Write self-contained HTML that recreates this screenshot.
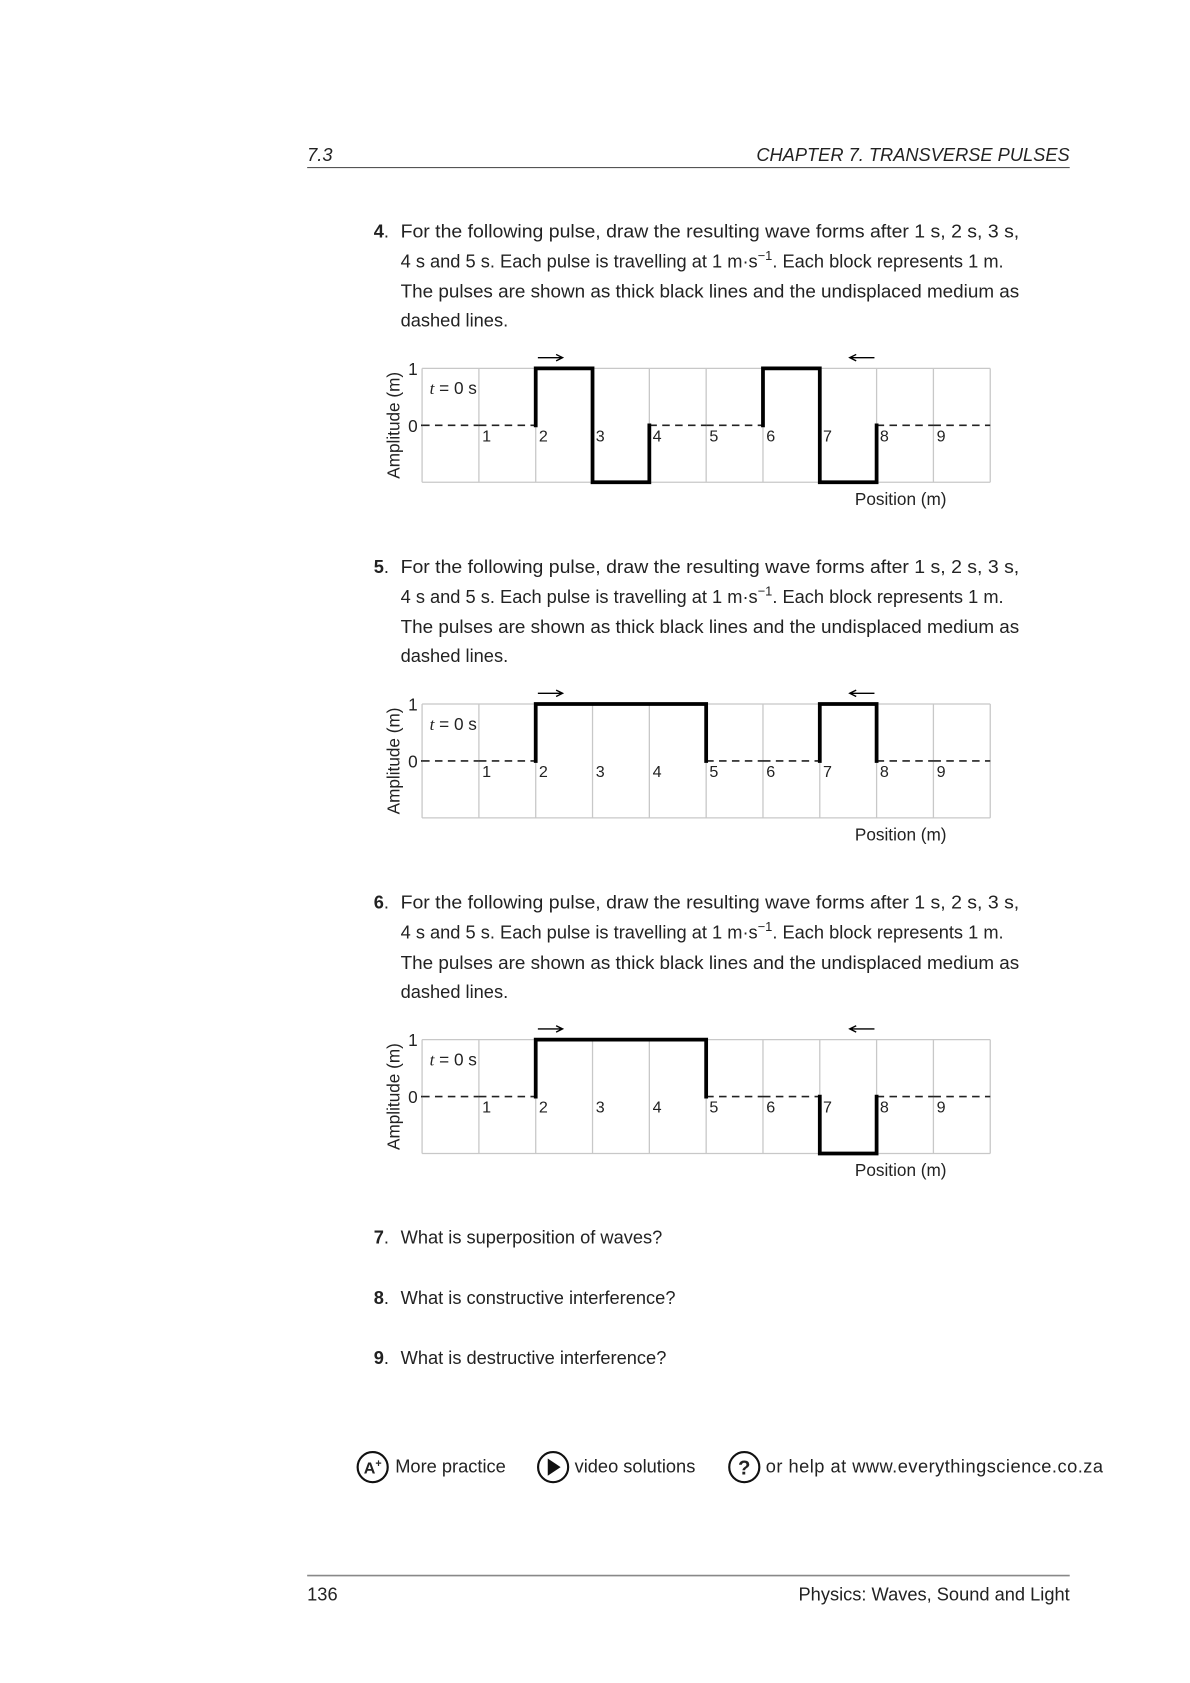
<!DOCTYPE html>
<html><head><meta charset="utf-8"><style>
html,body{margin:0;padding:0;background:#fff}
svg{display:block}
text{font-family:"Liberation Sans",sans-serif;fill:#222}
</style></head><body>
<svg id="page" xmlns="http://www.w3.org/2000/svg" width="1190" height="1683" viewBox="0 0 1108 1567">
<text x="286" y="150" font-size="17" font-style="italic">7.3</text>
<text x="996" y="150" font-size="17" font-style="italic" text-anchor="end">CHAPTER 7.  TRANSVERSE PULSES</text>
<line x1="286" y1="156" x2="996" y2="156" stroke="#555" stroke-width="1"/>
<g id="charts"></g>
<g><text x="348" y="1158" font-size="17"><tspan font-weight="bold">7</tspan>.</text><text x="373" y="1158" font-size="17">What is superposition of waves?</text></g>
<g><text x="348" y="1214" font-size="17"><tspan font-weight="bold">8</tspan>.</text><text x="373" y="1214" font-size="17">What is constructive interference?</text></g>
<g><text x="348" y="1270" font-size="17"><tspan font-weight="bold">9</tspan>.</text><text x="373" y="1270" font-size="17">What is destructive interference?</text></g>
<g>
<circle cx="347" cy="1366" r="14" fill="none" stroke="#111" stroke-width="2"/>
<text x="347" y="1372" font-size="15" font-weight="bold" text-anchor="middle">A<tspan font-size="10" dy="-6">+</tspan></text>
<text x="368" y="1371" font-size="17">More practice</text></g>
<g>
<circle cx="515" cy="1366" r="14" fill="none" stroke="#111" stroke-width="2"/>
<polygon points="510,1358 510,1374 522,1366" fill="#111"/>
<text x="535" y="1371" font-size="17">video solutions</text></g>
<g>
<circle cx="693" cy="1366" r="14" fill="none" stroke="#111" stroke-width="2"/>
<text x="693" y="1373" font-size="19" font-weight="bold" text-anchor="middle">?</text>
<text x="713" y="1371" font-size="17" textLength="314">or help at www.everythingscience.co.za</text></g>
<line x1="286" y1="1467" x2="996" y2="1467" stroke="#888" stroke-width="1.5"/>
<text x="286" y="1490" font-size="17">136</text>
<text x="996" y="1490" font-size="17" text-anchor="end">Physics: Waves, Sound and Light</text>
</svg>
<script>
const questionNumbers=["4","5","6"];
const pulseA=[0,0,1,-1,0,0,1,-1,0,0];
const pulseB=[0,0,1,1,1,0,0,1,0,0];
const pulseC=[0,0,1,1,1,0,0,-1,0,0];
const positionTicks=["1","2","3","4","5","6","7","8","9"];
const series=[pulseA,pulseB,pulseC];
const NS="http://www.w3.org/2000/svg";
const root=document.getElementById('charts');
function mk(tag,attrs,parent,txt){const e=document.createElementNS(NS,tag);for(const k in attrs)e.setAttribute(k,attrs[k]);if(txt!==undefined)e.textContent=txt;parent.appendChild(e);return e;}
const lines=["For the following pulse, draw the resulting wave forms after 1 s, 2 s, 3 s,","4 s and 5 s. Each pulse is travelling at 1 m\u00b7s","The pulses are shown as thick black lines and the undisplaced medium as","dashed lines."];
series.forEach((vals,ci)=>{
  const off=ci*312.5;
  const g=mk('g',{},root);
  
  
  const ys=[221,249,277,304].map(y=>y+off);
  const t0=mk('text',{x:348,y:ys[0],'font-size':17},g);
  mk('tspan',{'font-weight':'bold'},t0,questionNumbers[ci]);
  mk('tspan',{},t0,'. ');
  mk('text',{x:373,y:ys[0],'font-size':17,textLength:576,lengthAdjust:'spacingAndGlyphs'},g,lines[0]);
  const t1=mk('text',{x:373,y:ys[1],'font-size':17},g);
  mk('tspan',{},t1,lines[1]);
  mk('tspan',{dy:-7,'font-size':12},t1,'\u22121');
  mk('tspan',{dy:7},t1,'. Each block represents 1 m.');
  mk('text',{x:373,y:ys[2],'font-size':17,textLength:576,lengthAdjust:'spacingAndGlyphs'},g,lines[2]);
  mk('text',{x:373,y:ys[3],'font-size':17},g,lines[3]);
  const c=mk('g',{},root);
  
  
  const L=393,R=922,T=343+off,B=449+off;
  const n=vals.length, cw=(R-L)/n;
  const xs=i=>L+i*cw;
  const ys2=v=>(T+B)/2-v*(B-T)/2;
  for(let i=0;i<=n;i++){const l=mk('line',{x1:xs(i),y1:T,x2:xs(i),y2:B,stroke:'#c8c8c8','stroke-width':1.2},c);
    
    }
  [T,B].forEach(y=>{const l=mk('line',{x1:L,y1:y,x2:R,y2:y,stroke:'#c8c8c8','stroke-width':1.2},c);
    
    });
  const yl=mk('text',{x:0,y:0,'font-size':16,'text-anchor':'middle',transform:`translate(372,${(T+B)/2}) rotate(-90)`},c,'Amplitude (m)');
  
  
  mk('text',{x:380,y:T+6,'font-size':16},c,'1');
  mk('text',{x:380,y:ys2(0)+6,'font-size':16},c,'0');
  const tl=mk('text',{x:400,y:T+24,'font-size':16},c);
  mk('tspan',{'font-style':'italic','font-family':'Liberation Serif'},tl,'t');
  mk('tspan',{},tl,' = 0 s');
  positionTicks.forEach((p,i)=>{const t=mk('text',{x:xs(i+1)+3,y:ys2(0)+15,'font-size':15},c,p);
    
    });
  const xt=mk('text',{x:796,y:B+21,'font-size':16},c,'Position (m)');
  
  
  const dash={stroke:'#222','stroke-width':1.6,'stroke-dasharray':'7,5'};
  mk('line',Object.assign({x1:392,y1:ys2(0),x2:L,y2:ys2(0)},dash),c);
  vals.forEach((v,i)=>{if(v===0){const l=mk('line',Object.assign({x1:xs(i),y1:ys2(0),x2:xs(i+1),y2:ys2(0)},dash),c);
    
    }});
  let d='';
  vals.forEach((v,i)=>{
    const prev=i>0?vals[i-1]:0;
    if(v!==prev&&(v!==0||prev!==0)) d+=`M${xs(i)},${ys2(prev)}L${xs(i)},${ys2(v)}`;
    if(v!==0) d+=`M${xs(i)},${ys2(v)}L${xs(i+1)},${ys2(v)}`;
  });
  const last=vals[n-1]; if(last!==0) d+=`M${xs(n)},${ys2(last)}L${xs(n)},${ys2(0)}`;
  const p=mk('path',{d:d,fill:'none',stroke:'#000','stroke-width':3.5,'stroke-linecap':'square'},c);
  
  
  const first=vals.findIndex(v=>v!==0);
  let lastStart=n-1; while(lastStart>0&&vals[lastStart]===0)lastStart--;
  const ay=T-10;
  const ar=mk('path',{d:`M${xs(first)+2},${ay}L${xs(first)+25},${ay}M${xs(first)+19},${ay-3}L${xs(first)+25},${ay}L${xs(first)+19},${ay+3}`,fill:'none',stroke:'#000','stroke-width':1.3},c);
  
  
  const ax=xs(lastStart+1);
  const al=mk('path',{d:`M${ax-2},${ay}L${ax-25},${ay}M${ax-19},${ay-3}L${ax-25},${ay}L${ax-19},${ay+3}`,fill:'none',stroke:'#000','stroke-width':1.3},c);
  
  
});
</script>
</body></html>
